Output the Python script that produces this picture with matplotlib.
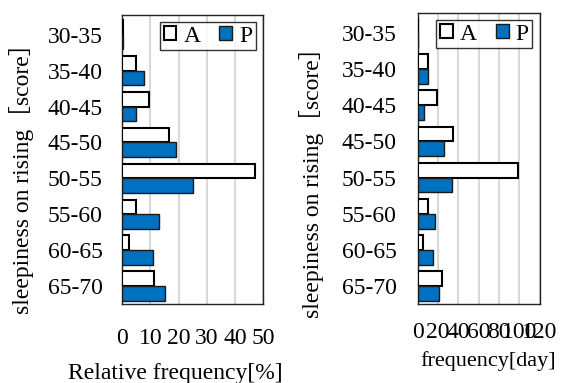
import numpy as np
import matplotlib
matplotlib.use("Agg")
import matplotlib.pyplot as plt

plt.rcParams["font.family"] = ["Liberation Serif", "Noto Sans CJK JP"]

# === data ===
categories = ["30-35", "35-40", "40-45", "45-50", "50-55", "55-60", "60-65", "65-70"]
rel_A = [0.2, 4.9, 9.4, 16.8, 47.2, 5.0, 2.6, 11.3]
rel_P = [0.4, 7.8, 4.9, 19.1, 25.2, 13.1, 10.9, 15.3]
day_A = [0.5, 10.5, 19.3, 34.8, 98.4, 10.5, 5.6, 23.9]
day_P = [0.5, 10.3, 6.2, 25.6, 33.4, 17.4, 14.8, 20.7]

BLUE = "#0070C0"
FS = 17

fig = plt.figure(figsize=(5.65, 3.83), dpi=100)
ax1 = fig.add_axes([0.216, 0.206, 0.250, 0.755])
ax2 = fig.add_axes([0.739, 0.206, 0.216, 0.760])

y = np.arange(len(categories))
h = 0.41


def draw(ax, a, p, xmax, step, xlabel, fs_x, tick_pad, ylab_pad):
    ax.barh(y - h / 2, a, height=h, color="white", edgecolor="black", linewidth=1.5, label="A", zorder=3)
    ax.barh(y + h / 2, p, height=h, color=BLUE, edgecolor="#1a1a1a", linewidth=1.0, label="P", zorder=3)
    ax.set_xlim(0, xmax)
    ax.set_ylim(len(categories) - 0.5, -0.55)
    ax.set_xticks(np.arange(0, xmax + 1, step))
    ax.set_yticks(y)
    ax.set_yticklabels(categories)
    ax.tick_params(axis="both", length=0, labelsize=FS)
    ax.tick_params(axis="x", pad=tick_pad)
    ax.tick_params(axis="y", pad=ylab_pad)
    ax.grid(axis="x", color="#d9d9d9", linewidth=1.5, zorder=0)
    for s in ax.spines.values():
        s.set_color("#222222")
        s.set_linewidth(1.0)
    ax.set_ylabel("sleepiness on rising［score］", fontsize=FS)
    ax.set_xlabel(xlabel, fontsize=fs_x)
    leg = ax.legend(loc="upper right", ncol=2, fontsize=FS, frameon=True, fancybox=False,
                    handlelength=0.55, handleheight=0.55, handletextpad=0.3,
                    columnspacing=0.8, borderpad=0.15, borderaxespad=0.3)
    leg.get_frame().set_edgecolor("black")
    leg.get_frame().set_linewidth(1.0)


draw(ax1, rel_A, rel_P, 50, 10, "Relative frequency[%]", FS, 17, 14)
draw(ax2, day_A, day_P, 120, 20, "frequency[day]", 16, 13, 15)
ax1.xaxis.set_label_coords(0.38, -0.204)
ax2.xaxis.set_label_coords(0.58, -0.162)
ax1.yaxis.set_label_coords(-0.62, 0.453)
ax2.yaxis.set_label_coords(-0.77, 0.436)

fig.savefig("out.png", dpi=100)
